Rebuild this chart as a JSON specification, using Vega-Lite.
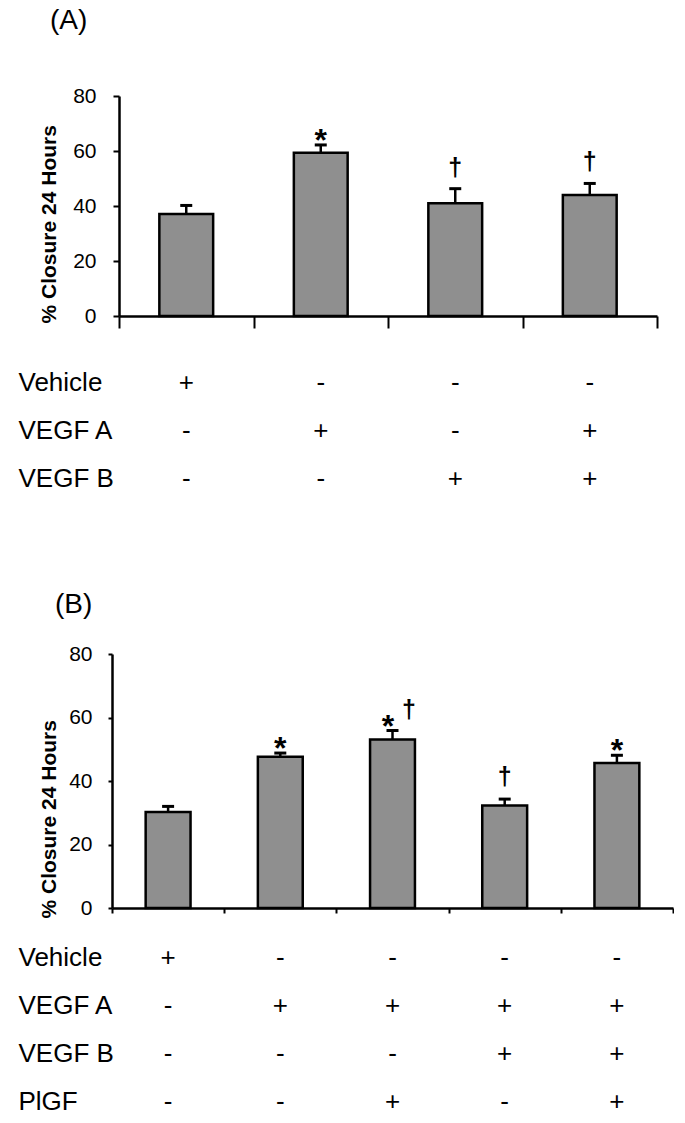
{
  "$schema": "https://vega.github.io/schema/vega-lite/v6.json",
  "padding": {"left": 18, "top": 7, "right": 0, "bottom": 0},
  "background": "white",
  "datasets": {
    "barsA": [
      {"group": "Vehicle", "mean": 37.1, "upper": 40.2, "star": "", "dagger": ""},
      {"group": "VEGF A", "mean": 59.4, "upper": 62.2, "star": "*", "dagger": ""},
      {"group": "VEGF B", "mean": 41.0, "upper": 46.3, "star": "", "dagger": "†"},
      {"group": "VEGF A + VEGF B", "mean": 44.0, "upper": 48.2, "star": "", "dagger": "†"}
    ],
    "tableA": [
      {"group": "Vehicle", "factor": "Vehicle", "sign": "+"},
      {"group": "Vehicle", "factor": "VEGF A", "sign": "-"},
      {"group": "Vehicle", "factor": "VEGF B", "sign": "-"},
      {"group": "VEGF A", "factor": "Vehicle", "sign": "-"},
      {"group": "VEGF A", "factor": "VEGF A", "sign": "+"},
      {"group": "VEGF A", "factor": "VEGF B", "sign": "-"},
      {"group": "VEGF B", "factor": "Vehicle", "sign": "-"},
      {"group": "VEGF B", "factor": "VEGF A", "sign": "-"},
      {"group": "VEGF B", "factor": "VEGF B", "sign": "+"},
      {"group": "VEGF A + VEGF B", "factor": "Vehicle", "sign": "-"},
      {"group": "VEGF A + VEGF B", "factor": "VEGF A", "sign": "+"},
      {"group": "VEGF A + VEGF B", "factor": "VEGF B", "sign": "+"}
    ],
    "barsB": [
      {"group": "Vehicle", "mean": 30.2, "upper": 32.0, "star": "", "dagger": ""},
      {"group": "VEGF A", "mean": 47.6, "upper": 48.8, "star": "*", "dagger": ""},
      {"group": "VEGF A + PlGF", "mean": 53.1, "upper": 55.9, "star": "*", "dagger": "†"},
      {"group": "VEGF A + VEGF B", "mean": 32.3, "upper": 34.3, "star": "", "dagger": "†"},
      {"group": "VEGF A + VEGF B + PlGF", "mean": 45.7, "upper": 48.1, "star": "*", "dagger": ""}
    ],
    "tableB": [
      {"group": "Vehicle", "factor": "Vehicle", "sign": "+"},
      {"group": "Vehicle", "factor": "VEGF A", "sign": "-"},
      {"group": "Vehicle", "factor": "VEGF B", "sign": "-"},
      {"group": "Vehicle", "factor": "PlGF", "sign": "-"},
      {"group": "VEGF A", "factor": "Vehicle", "sign": "-"},
      {"group": "VEGF A", "factor": "VEGF A", "sign": "+"},
      {"group": "VEGF A", "factor": "VEGF B", "sign": "-"},
      {"group": "VEGF A", "factor": "PlGF", "sign": "-"},
      {"group": "VEGF A + PlGF", "factor": "Vehicle", "sign": "-"},
      {"group": "VEGF A + PlGF", "factor": "VEGF A", "sign": "+"},
      {"group": "VEGF A + PlGF", "factor": "VEGF B", "sign": "-"},
      {"group": "VEGF A + PlGF", "factor": "PlGF", "sign": "+"},
      {"group": "VEGF A + VEGF B", "factor": "Vehicle", "sign": "-"},
      {"group": "VEGF A + VEGF B", "factor": "VEGF A", "sign": "+"},
      {"group": "VEGF A + VEGF B", "factor": "VEGF B", "sign": "+"},
      {"group": "VEGF A + VEGF B", "factor": "PlGF", "sign": "-"},
      {"group": "VEGF A + VEGF B + PlGF", "factor": "Vehicle", "sign": "-"},
      {"group": "VEGF A + VEGF B + PlGF", "factor": "VEGF A", "sign": "+"},
      {"group": "VEGF A + VEGF B + PlGF", "factor": "VEGF B", "sign": "+"},
      {"group": "VEGF A + VEGF B + PlGF", "factor": "PlGF", "sign": "+"}
    ]
  },
  "config": {
    "view": {"stroke": null},
    "font": "Liberation Sans",
    "axis": {"grid": false, "domainColor": "black", "tickColor": "black", "labelColor": "black", "titleColor": "black", "labelFont": "Liberation Sans", "titleFont": "Liberation Sans"}
  },
  "spacing": 88,
  "vconcat": [
    {
      "spacing": 43,
      "bounds": "flush",
      "vconcat": [
        {
          "data": {"name": "barsA"},
          "width": 545,
          "height": 220,
          "title": {"text": "(A)", "anchor": "start", "frame": "group", "dx": -62, "offset": 50, "fontSize": 28, "fontWeight": "normal", "font": "Liberation Sans", "color": "black"},
          "encoding": {
            "x": {"field": "group", "type": "nominal", "sort": null, "scale": {"paddingInner": 0, "paddingOuter": 0, "range": [7, 545]}, "axis": {"title": null, "labels": false, "tickBand": "extent", "tickSize": 12, "tickWidth": 2, "domainWidth": 2.5}},
            "y": {"field": "mean", "type": "quantitative", "scale": {"domain": [0, 80], "nice": false}, "axis": {"title": "% Closure 24 Hours", "offset": -7, "values": [0, 20, 40, 60, 80], "labelFontSize": 21, "tickSize": 6, "tickWidth": 2, "domainWidth": 2.5, "labelPadding": 17, "titleFontSize": 21, "titleFontWeight": "bold", "titleAngle": 270, "titleAlign": "left", "titleBaseline": "alphabetic", "titleX": -64, "titleY": 227}}
          },
          "layer": [
            {"mark": {"type": "bar", "width": {"band": 0.4}, "fill": "#8f8f8f", "stroke": "black", "strokeWidth": 2.5}},
            {"mark": {"type": "rule", "strokeWidth": 2.5, "color": "black"}, "encoding": {"y2": {"field": "upper"}}},
            {"mark": {"type": "tick", "orient": "horizontal", "size": 12, "thickness": 3, "color": "black", "opacity": 1}, "encoding": {"y": {"field": "upper", "type": "quantitative"}}},
            {"transform": [{"filter": "datum.star != '' && datum.dagger == ''"}], "mark": {"type": "text", "fontSize": 32, "fontWeight": "bold", "baseline": "alphabetic", "dy": 6, "color": "black"}, "encoding": {"y": {"field": "upper", "type": "quantitative"}, "text": {"field": "star"}}},
            {"transform": [{"filter": "datum.dagger != '' && datum.star == ''"}], "mark": {"type": "text", "fontSize": 25, "fontWeight": "bold", "baseline": "alphabetic", "dy": -13, "color": "black"}, "encoding": {"y": {"field": "upper", "type": "quantitative"}, "text": {"field": "dagger"}}}
          ]
        },
        {
          "data": {"name": "tableA"},
          "width": 545,
          "height": 144,
          "mark": {"type": "text", "fontSize": 26, "font": "Liberation Sans", "color": "black"},
          "encoding": {
            "x": {"field": "group", "type": "nominal", "sort": null, "scale": {"paddingInner": 0, "paddingOuter": 0, "range": [7, 545]}, "axis": null},
            "y": {"field": "factor", "type": "nominal", "sort": null, "scale": {"type": "band", "paddingInner": 0, "paddingOuter": 0}, "axis": {"title": null, "domain": false, "ticks": false, "tickSize": 0, "labelAlign": "left", "labelPadding": 94, "labelFontSize": 26, "labelBaseline": "middle"}},
            "text": {"field": "sign"}
          }
        }
      ]
    },
    {
      "spacing": 26,
      "bounds": "flush",
      "vconcat": [
        {
          "data": {"name": "barsB"},
          "width": 561,
          "height": 254,
          "title": {"text": "(B)", "anchor": "start", "frame": "group", "dx": -57, "offset": 24, "fontSize": 28, "fontWeight": "normal", "font": "Liberation Sans", "color": "black"},
          "encoding": {
            "x": {"field": "group", "type": "nominal", "sort": null, "scale": {"paddingInner": 0, "paddingOuter": 0}, "axis": {"title": null, "labels": false, "tickBand": "extent", "tickSize": 5, "tickWidth": 2, "domainWidth": 2.5}},
            "y": {"field": "mean", "type": "quantitative", "scale": {"domain": [0, 80], "nice": false}, "axis": {"title": "% Closure 24 Hours", "values": [0, 20, 40, 60, 80], "labelFontSize": 21, "tickSize": 4, "tickWidth": 2, "domainWidth": 2.5, "labelPadding": 16, "titleFontSize": 21, "titleFontWeight": "bold", "titleAngle": 270, "titleAlign": "left", "titleBaseline": "alphabetic", "titleX": -57, "titleY": 264}}
          },
          "layer": [
            {"mark": {"type": "bar", "width": {"band": 0.4}, "fill": "#8f8f8f", "stroke": "black", "strokeWidth": 2.5}},
            {"mark": {"type": "rule", "strokeWidth": 2.5, "color": "black"}, "encoding": {"y2": {"field": "upper"}}},
            {"mark": {"type": "tick", "orient": "horizontal", "size": 12, "thickness": 3, "color": "black", "opacity": 1}, "encoding": {"y": {"field": "upper", "type": "quantitative"}}},
            {"transform": [{"filter": "datum.star != '' && datum.dagger == ''"}], "mark": {"type": "text", "fontSize": 32, "fontWeight": "bold", "baseline": "alphabetic", "dy": 6, "color": "black"}, "encoding": {"y": {"field": "upper", "type": "quantitative"}, "text": {"field": "star"}}},
            {"transform": [{"filter": "datum.dagger != '' && datum.star == ''"}], "mark": {"type": "text", "fontSize": 25, "fontWeight": "bold", "baseline": "alphabetic", "dy": -14, "color": "black"}, "encoding": {"y": {"field": "upper", "type": "quantitative"}, "text": {"field": "dagger"}}},
            {"transform": [{"filter": "datum.star != '' && datum.dagger != ''"}], "mark": {"type": "text", "fontSize": 32, "fontWeight": "bold", "baseline": "alphabetic", "dy": 6, "dx": -4.5, "color": "black"}, "encoding": {"y": {"field": "upper", "type": "quantitative"}, "text": {"field": "star"}}},
            {"transform": [{"filter": "datum.star != '' && datum.dagger != ''"}], "mark": {"type": "text", "fontSize": 25, "fontWeight": "bold", "baseline": "alphabetic", "dy": -13, "dx": 16.5, "color": "black"}, "encoding": {"y": {"field": "upper", "type": "quantitative"}, "text": {"field": "dagger"}}}
          ]
        },
        {
          "data": {"name": "tableB"},
          "width": 561,
          "height": 192,
          "mark": {"type": "text", "fontSize": 26, "font": "Liberation Sans", "color": "black"},
          "encoding": {
            "x": {"field": "group", "type": "nominal", "sort": null, "scale": {"paddingInner": 0, "paddingOuter": 0}, "axis": null},
            "y": {"field": "factor", "type": "nominal", "sort": null, "scale": {"type": "band", "paddingInner": 0, "paddingOuter": 0}, "axis": {"title": null, "domain": false, "ticks": false, "tickSize": 0, "labelAlign": "left", "labelPadding": 94, "labelFontSize": 26, "labelBaseline": "middle"}},
            "text": {"field": "sign"}
          }
        }
      ]
    }
  ]
}
